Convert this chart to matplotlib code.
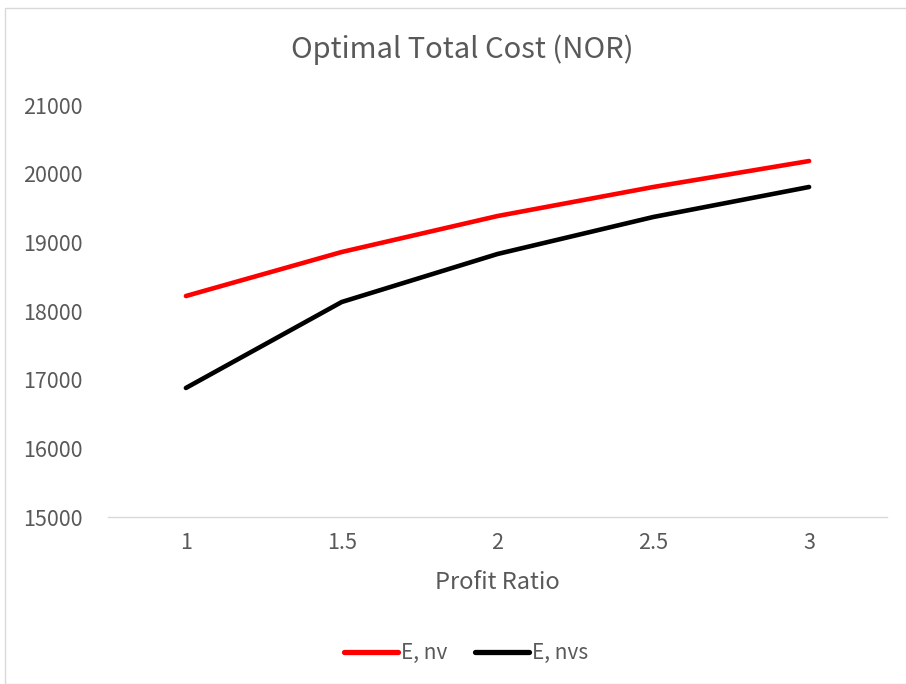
import numpy as np
import matplotlib.pyplot as plt
from matplotlib.patches import Rectangle

ratio = [1, 1.5, 2, 2.5, 3]
tick_labels = ['1', '1.5', '2', '2.5', '3']
e_nv = [18218, 18859, 19383, 19806, 20184]
e_nvs = [16879, 18131, 18830, 19369, 19806]

plt.rcParams['font.family'] = ['Noto Sans CJK SC', 'DejaVu Sans']
txt = '#595959'

fig = plt.figure(figsize=(9.06, 6.84), dpi=100)
fig.patches.append(Rectangle((5/906, 0), 1, 1 - 8/684, transform=fig.transFigure,
                             fill=False, edgecolor='#d9d9d9', linewidth=1))
ax = fig.add_axes([108/906, 167/684, 779/906, 412/684])

ax.plot(ratio, e_nv, color='#ff0000', lw=3.3, solid_capstyle='round', label='E, nv')
ax.plot(ratio, e_nvs, color='#000000', lw=3.3, solid_capstyle='round', label='E, nvs')

ax.set_xlim(0.75, 3.25)
ax.set_ylim(15000, 21000)
ax.set_xticks(ratio)
ax.set_xticklabels(tick_labels)
ax.set_yticks(np.arange(15000, 21001, 1000))
for s in ['top', 'right', 'left']:
    ax.spines[s].set_visible(False)
ax.spines['bottom'].set_color('#d9d9d9')
ax.spines['bottom'].set_linewidth(1)
ax.tick_params(length=0, labelsize=15.5, labelcolor=txt)
for lab in ax.get_xticklabels() + ax.get_yticklabels():
    lab.set_fontweight('light')
for lab in ax.get_yticklabels():
    lab.set_horizontalalignment('left')
ax.tick_params(axis='y', pad=61)
ax.tick_params(axis='x', pad=11)

ax.set_xlabel('Profit Ratio', fontsize=17, color=txt, fontweight='light', labelpad=12)
fig.text(462/906, 1 - 50/684, 'Optimal Total Cost (NOR)', fontsize=21, color=txt,
         fontweight='light', ha='center', va='center')

leg = fig.legend(loc='center', bbox_to_anchor=(466/906, 1 - 653/684), ncol=2, frameon=False,
                 fontsize=15, handlelength=2.6, handletextpad=0.15, columnspacing=1.3)
for t in leg.get_texts():
    t.set_color(txt)
    t.set_fontweight('light')
for l in leg.get_lines():
    l.set_linewidth(3.8)

fig.savefig('out.png', dpi=100)
